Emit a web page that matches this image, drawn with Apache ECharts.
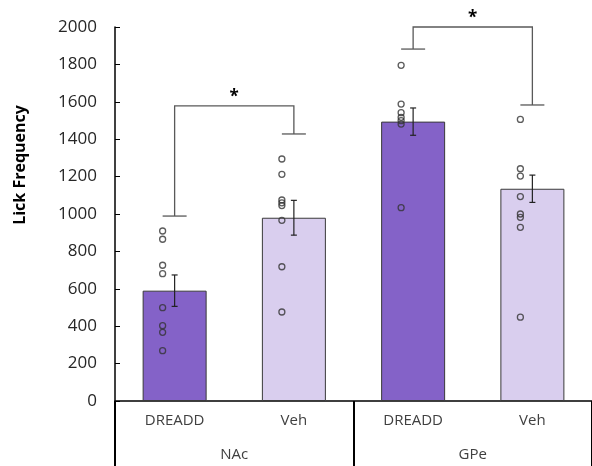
<!DOCTYPE html>
<html>
<head>
<meta charset="utf-8">
<script src="https://cdn.jsdelivr.net/npm/echarts@6/dist/echarts.min.js"></script>
<style>html,body{margin:0;padding:0;background:#fff}#chart{width:592px;height:466px}</style>
</head>
<body>
<div id="chart"></div>
<script>
// values
const categories = ['DREADD', 'Veh', 'DREADD', 'Veh'];
const groups = ['NAc', 'GPe'];
const means = [590, 980, 1494, 1135];
const sems = [84, 93, 73, 73];
const points = [
  [909, 865, 726, 681, 499, 403, 367, 269],
  [1294, 1212, 1075, 1060, 1045, 966, 718, 476],
  [1795, 1588, 1542, 1517, 1499, 1481, 1034],
  [1506, 1242, 1203, 1093, 1000, 982, 929, 448],
];
// [fromIdx, toIdx, top, leftEnd, rightEnd]
const brackets = [
  [0, 1, 1578, 989, 1428],
  [2, 3, 2000, 1882, 1583],
];
const yTicks = [0, 2000, 200]; // min, max, step

const barColors = ['#8462C8', '#D9CEEE', '#8462C8', '#D9CEEE'];
const txt = '#404040';

const chart = echarts.init(document.getElementById('chart'));

const dots = [];
points.forEach((arr, i) => arr.forEach(v => dots.push([i, v])));

chart.setOption({
  animation: false,
  grid: { left: 115, right: -5, top: 27, bottom: 65 },
  xAxis: [{
    type: 'category', data: categories,
    axisLine: { lineStyle: { color: '#000', width: 1.5 } },
    axisTick: { show: false },
    axisLabel: { color: txt, fontFamily: 'Open Sans', fontSize: 15, margin: 12 },
  }, {
    type: 'category', data: groups, position: 'bottom',
    axisLine: { show: false },
    axisTick: { show: true, inside: false, length: 70, interval: 0, lineStyle: { color: '#000', width: 2 } },
    axisLabel: { color: txt, fontFamily: 'Open Sans', fontSize: 15, margin: 46 },
  }],
  yAxis: {
    type: 'value', min: yTicks[0], max: yTicks[1], interval: yTicks[2],
    axisLine: { show: true, lineStyle: { color: '#000', width: 1.5 } },
    axisTick: { show: true, inside: true, length: 5, lineStyle: { color: '#000' } },
    splitLine: { show: false },
    axisLabel: { color: '#262626', fontFamily: 'Open Sans', fontSize: 17, margin: 18, formatter: v => String(v) },
  },
  graphic: [{
    type: 'text', x: 20, y: 165, rotation: Math.PI / 2,
    style: { text: 'Lick Frequency', font: 'bold 16px "Open Sans"', fill: '#000', align: 'center', verticalAlign: 'middle' },
  }],
  series: [{
    type: 'bar', barWidth: 64,
    data: means.map((v, i) => ({ value: v, itemStyle: { color: barColors[i] } })),
    itemStyle: { borderColor: '#3a3a3a', borderWidth: 1 },
  }, {
    type: 'custom', name: 'sem',
    data: means.map((m, i) => [i, m - sems[i], m + sems[i]]),
    renderItem(params, api) {
      const lo = api.coord([api.value(0), api.value(1)]);
      const hi = api.coord([api.value(0), api.value(2)]);
      const st = { stroke: '#222', lineWidth: 1.2 };
      return { type: 'group', children: [
        { type: 'line', shape: { x1: lo[0], y1: lo[1], x2: hi[0], y2: hi[1] }, style: st },
        { type: 'line', shape: { x1: lo[0] - 3, y1: lo[1], x2: lo[0] + 3, y2: lo[1] }, style: st },
        { type: 'line', shape: { x1: hi[0] - 3, y1: hi[1], x2: hi[0] + 3, y2: hi[1] }, style: st },
      ] };
    },
    z: 3,
  }, {
    type: 'scatter', data: dots, symbol: 'circle', symbolSize: 6, symbolOffset: [-12, 0],
    itemStyle: { color: 'rgba(0,0,0,0)', borderColor: '#333', borderWidth: 1.3 },
    z: 4,
  }, {
    type: 'custom', name: 'sig', clip: false,
    data: brackets,
    renderItem(params, api) {
      const a = api.coord([api.value(0), api.value(2)]);
      const b = api.coord([api.value(1), api.value(2)]);
      const la = api.coord([api.value(0), api.value(3)]);
      const rb = api.coord([api.value(1), api.value(4)]);
      const st = { stroke: '#595959', lineWidth: 1.3 };
      return { type: 'group', children: [
        { type: 'polyline', shape: { points: [la, a, b, rb] }, style: Object.assign({ fill: null }, st) },
        { type: 'line', shape: { x1: la[0] - 12, y1: la[1], x2: la[0] + 12, y2: la[1] }, style: st },
        { type: 'line', shape: { x1: rb[0] - 12, y1: rb[1], x2: rb[0] + 12, y2: rb[1] }, style: st },
        { type: 'text', x: (a[0] + b[0]) / 2, y: a[1] - 9,
          style: { text: '*', font: 'bold 17px "Open Sans"', fill: '#000', align: 'center', verticalAlign: 'middle' } },
      ] };
    },
    z: 5,
  }],
});
</script>
</body>
</html>
